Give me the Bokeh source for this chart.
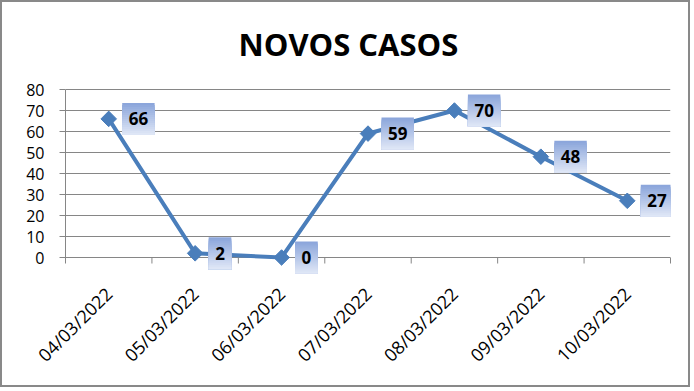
import math
from bokeh.plotting import figure
from bokeh.models import Range1d, FixedTicker, LinearAxis
from bokeh.embed import file_html
from bokeh.resources import INLINE
from bokeh.core.properties import value

# ---- data ----
dates = ["04/03/2022", "05/03/2022", "06/03/2022", "07/03/2022",
         "08/03/2022", "09/03/2022", "10/03/2022"]
casos = [66, 2, 0, 59, 70, 48, 27]
y_ticks = [0, 10, 20, 30, 40, 50, 60, 70, 80]
title_text = "NOVOS CASOS"

# ---- layout (pixels inside the figure) ----
W, H = 690, 387
ML, MR, MT, MB = 63, 22, 10, 107
Y_TOP_PX = 87          # pixel row of the top tick (80)
SY = 2.1               # pixels per unit on y
TITLE_MID_PX = 41      # vertical middle of title
TITLE_LEFT_PX = 236    # left edge of title
BLUE = "#4a7ebb"
GRID = "#868686"

fw = W - ML - MR
fh = H - MT - MB
Y1 = y_ticks[-1] + (Y_TOP_PX - MT) / SY
Y0 = Y1 - fh / SY
sx = fw / len(dates)
sy = SY
tick_len = 6 / sy

p = figure(width=W, height=H, x_range=Range1d(0, len(dates)), y_range=Range1d(Y0, Y1),
           output_backend="svg", toolbar_location=None,
           min_border_left=ML, min_border_right=MR, min_border_top=MT, min_border_bottom=MB)
p.background_fill_color = "white"
p.border_fill_color = "white"
p.outline_line_color = None
p.styles = {"border": "2px solid #898989"}

centers = [i + 0.5 for i in range(len(dates))]
bounds = list(range(len(dates) + 1))

# x axis (labels only; sits just under the frame)
xa = p.xaxis[0]
xa.ticker = FixedTicker(ticks=centers)
xa.major_label_overrides = {c: d for c, d in zip(centers, dates)}
xa.major_label_orientation = math.pi / 4
xa.major_tick_line_color = None
xa.minor_tick_line_color = None
xa.axis_line_color = None
xa.major_label_text_font = "Open Sans"
xa.major_label_text_font_size = "18px"
xa.major_label_text_color = "black"
xa.major_label_standoff = 2

# y axis
ya = p.yaxis[0]
ya.ticker = FixedTicker(ticks=y_ticks)
ya.bounds = (y_ticks[0] - tick_len, y_ticks[-1])
ya.axis_line_color = GRID
ya.major_tick_line_color = GRID
ya.major_tick_in = 0
ya.major_tick_out = 6
ya.minor_tick_line_color = None
ya.major_label_text_font = "Open Sans"
ya.major_label_text_font_size = "16px"
ya.major_label_text_color = "black"
ya.major_label_standoff = 15

# right edge tick of the category axis
ra = LinearAxis(ticker=FixedTicker(ticks=[]), bounds=(y_ticks[0] - tick_len, y_ticks[0]),
                axis_line_color=GRID, major_tick_line_color=None, minor_tick_line_color=None,
                major_label_text_font_size="0px")
p.add_layout(ra, "right")

p.xgrid.visible = False
p.ygrid.ticker = FixedTicker(ticks=y_ticks)
p.ygrid.grid_line_color = GRID
p.ygrid.grid_line_width = 1

# category boundary ticks below the zero line
inner = bounds[1:-1]
p.segment(x0=inner, y0=[y_ticks[0]] * len(inner), x1=inner, y1=[y_ticks[0] - tick_len] * len(inner),
          line_color=GRID, line_width=1)

# title
p.text(x=[(TITLE_LEFT_PX - ML) / sx], y=[y_ticks[-1] + (Y_TOP_PX - TITLE_MID_PX) / sy],
       text=[title_text], text_align="left", text_baseline="middle",
       text_font=value("Open Sans"), text_font_style="bold", text_font_size="31px",
       text_color="black")

# series
p.line(centers, casos, line_width=4, color=BLUE, line_join="miter")
p.scatter(centers, casos, marker="square", angle=math.pi / 4, size=11, color=BLUE)

# label boxes with vertical gradient
top_rgb = (140, 166, 219)
bot_rgb = (222, 230, 246)
N = 16
box_h = 32
L, R, T, B, C = [], [], [], [], []
tx = []
for c, v in zip(centers, casos):
    wpx = 9.7 * len(str(v)) + 13
    left = c + 13.5 / sx
    right = left + wpx / sx
    tx.append((left + right) / 2)
    top = v + (box_h / 2) / sy
    bottom = v - (box_h / 2) / sy
    for k in range(N):
        f = k / (N - 1)
        rgb = tuple(int(round(a + (b - a) * f)) for a, b in zip(top_rgb, bot_rgb))
        t = top - k * (box_h / N) / sy
        L.append(left); R.append(right); T.append(t); B.append(bottom)
        C.append("#%02x%02x%02x" % rgb)
p.quad(left=L, right=R, top=T, bottom=B, fill_color=C, line_color=None)
p.text(x=tx, y=casos, text=[str(v) for v in casos], text_align="center", text_baseline="middle",
       text_font=value("Open Sans"), text_font_style="bold", text_font_size="17px",
       text_color="black")

open("out.html", "w").write(file_html(p, INLINE))
